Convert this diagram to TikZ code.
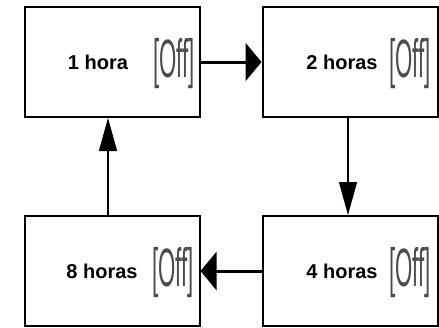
\documentclass[tikz,border=0pt]{standalone}
\usepackage{fontspec}
\setmainfont{Liberation Sans}
\usepackage{tikz}
\usetikzlibrary{arrows.meta}
\colorlet{offgray}{black!70}

\tikzset{
	box/.style={draw, line width=2pt, minimum width=175pt, minimum height=110pt, inner sep=0pt},
	lbl/.style={font=\fontsize{20}{20}\bfseries\selectfont, inner sep=0pt},
	off/.style={text=offgray, inner sep=0pt, font=\fontsize{30}{30}\selectfont},
	hflow/.style={line width=3pt, -{Triangle[length=16pt, width=38pt]}},
	vflow/.style={line width=1.2pt, -{Triangle[length=33pt, width=18pt]}}
}
\newcommand{\offtag}{\scalebox{0.74}[1.8]{[Off]}}

\begin{document}
\begin{tikzpicture}[x=1pt, y=1pt]
				\useasboundingbox (0,0) rectangle (439,-327);
				
				\node[box] (b1) at (112,-62) {};
				\node[box] (b2) at (350,-62) {};
				\node[box] (b4) at (350,-271) {};
				\node[box] (b8) at (112,-271) {};
				
				\node[lbl] (t1) at ([xshift=-14pt]b1.center) {1 hora};
				\node[lbl] (t2) at ([xshift=-8pt]b2.center) {2 horas};
				\node[lbl] (t4) at ([xshift=-8pt]b4.center) {4 horas};
				\node[lbl] (t8) at ([xshift=-10pt]b8.center) {8 horas};
				
				\node[off] (o1) at ([xshift=62pt, yshift=-2pt]b1.center) {\offtag};
				\node[off] (o2) at ([xshift=60pt, yshift=-2pt]b2.center) {\offtag};
				\node[off] (o4) at ([xshift=60pt, yshift=-2pt]b4.center) {\offtag};
				\node[off] (o8) at ([xshift=61pt, yshift=-2pt]b8.center) {\offtag};
				
				\draw[hflow] (b1) -- (b2);
				\draw[vflow] ([xshift=-2pt]b2.south) -- ([xshift=-2pt]b4.north);
				\draw[hflow] (b4) -- (b8);
				\draw[vflow] ([xshift=-4pt]b8.north) -- ([xshift=-4pt]b1.south);
%				\draw[vflow] (b8) -- (b1);
			\end{tikzpicture}
\end{document}
